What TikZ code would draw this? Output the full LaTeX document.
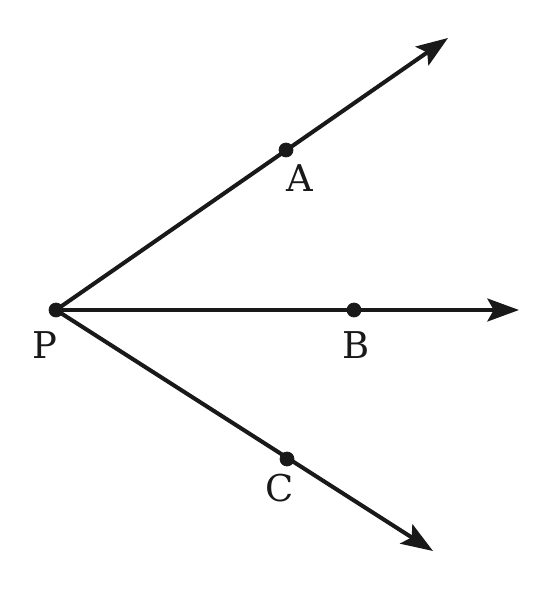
\documentclass[tikz,border=0pt]{standalone}
\usepackage{amsmath}
\usepackage{fontspec}
\setmainfont{DejaVu Serif}
\usepackage{tikz}
\usetikzlibrary{arrows.meta}

\begin{document}
\begin{tikzpicture}[y=-.02cm ,x=.02cm]
			\useasboundingbox (0,0) rectangle (559,604);
			\tikzset{ray/.style={line width=2.3pt,draw=black!90,-{Stealth[length=18pt,width=13pt,inset=3.6pt]}},
				lbl/.style={font=\fontsize{21}{25}\selectfont,inner sep=0pt,text=black!90}}
			\coordinate (P) at (56,310);
			\coordinate (A) at (286,150);
			\coordinate (B) at (354,310);
			\coordinate (C) at (287,459);
			\coordinate (endA) at (448,38);
			\coordinate (endB) at (519,310);
			\coordinate (endC) at (433,551);
			
			\draw[ray] (P) -- (endA);
			\draw[ray] (P) -- (endB);
			\draw[ray] (P) -- (endC);
			
			\filldraw[fill=black!90,draw=black!90] (P) circle (7)    node[lbl] (labP) at (45,345) {P};
			\filldraw[fill=black!90,draw=black!90] (A) circle (7)    node[lbl] (labA) at (300,178) {A};
			\filldraw[fill=black!90,draw=black!90] (B) circle (7)    node[lbl] (labB) at (356,345) {B};
			\filldraw[fill=black!90,draw=black!90] (C) circle (7)    node[lbl] (labC) at (280,488) {C};
			
		\end{tikzpicture}
\end{document}
